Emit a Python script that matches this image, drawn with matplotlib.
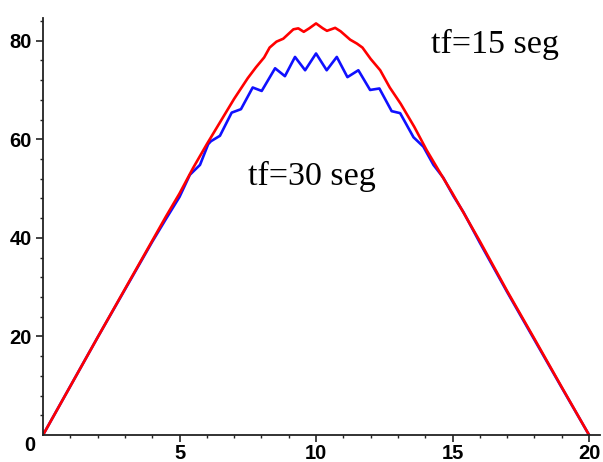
import numpy as np
import matplotlib.pyplot as plt

# curve for tf=15 seg (red)
x_tf15 = [0, 1, 2, 3, 4, 4.5, 5, 5.5, 6, 6.5, 7, 7.5, 7.8, 8.1, 8.3, 8.55, 8.8,
          9.17, 9.35, 9.55, 9.75, 10, 10.25, 10.4, 10.7, 10.9, 11.25, 11.5, 11.7,
          12, 12.35, 12.7, 13.1, 13.6, 14.05, 14.5, 15, 16, 17, 18, 19, 20]
y_tf15 = [0, 9.9, 19.8, 29.6, 39.4, 44.3, 49, 54.2, 59, 63.6, 68.2, 72.4, 74.6, 76.6,
          78.6, 79.8, 80.4, 82.3, 82.5, 81.8, 82.5, 83.5, 82.5, 82.0, 82.6, 81.9,
          80.2, 79.4, 78.6, 76.3, 74.0, 70.5, 67.2, 62.5, 57.8, 53.6, 49, 39.3,
          29.2, 19.5, 9.7, 0]

# curve for tf=30 seg (blue)
x_tf30 = [0, 1, 2, 3, 4, 4.5, 5, 5.38, 5.75, 6.05, 6.15, 6.48, 6.91, 7.25, 7.68,
          8.01, 8.5, 8.86, 9.23, 9.6, 10, 10.39, 10.76, 11.15, 11.55, 11.98, 12.32,
          12.77, 13.08, 13.57, 13.93, 14.3, 14.66, 15.03, 15.4, 16, 17, 18, 19, 20]
y_tf30 = [0, 9.9, 19.8, 29.5, 39.2, 43.8, 48.3, 52.8, 54.8, 59.0, 59.6, 60.7, 65.4,
          66.1, 70.5, 69.8, 74.4, 72.8, 76.7, 74.0, 77.4, 74.0, 76.7, 72.6, 74.0,
          70.0, 70.3, 65.7, 65.3, 60.4, 58.5, 54.8, 52.2, 48.5, 45.2, 39.0, 29.0,
          19.3, 9.6, 0]

x_ticks = [5, 10, 15, 20]
y_ticks = [20, 40, 60, 80]

fig = plt.figure(figsize=(6.03, 4.62), dpi=100)
ax = fig.add_axes([43 / 603, 27 / 462, 557 / 603, 417 / 462])

ax.plot(x_tf30, y_tf30, color='#1010ff', lw=1.9, solid_joinstyle='round')
ax.plot(x_tf15, y_tf15, color='#ff0000', lw=1.9, solid_joinstyle='round')

ax.set_xlim(0, 20.4)
ax.set_ylim(0, 84.6)

for s in ['top', 'right']:
    ax.spines[s].set_visible(False)
for s in ['left', 'bottom']:
    ax.spines[s].set_color('#222222')
    ax.spines[s].set_linewidth(1.3)

ax.set_xticks(x_ticks)
ax.set_xticks(np.arange(1, 21, 1), minor=True)
ax.set_yticks(y_ticks)
ax.set_yticks(np.arange(4, 85, 4), minor=True)

lab = dict(fontfamily='Liberation Sans', fontweight='bold', fontsize=14.5)
ax.set_xticklabels([str(v) for v in x_ticks], **lab)
ax.set_yticklabels([str(v) for v in y_ticks], **lab)
ax.tick_params(axis='x', which='major', length=5, width=1.2, color='#222222', pad=1.5)
ax.tick_params(axis='y', which='major', length=5, width=1.2, color='#222222', pad=3)
ax.tick_params(which='minor', length=2.5, width=1.0, color='#222222')

ax.text(-0.28, -0.2, '0', ha='right', va='top', clip_on=False, **lab)

txt = dict(fontfamily='Liberation Serif', fontsize=24.5, color='black')
ax.text(14.2, 77.4, 'tf=15 seg', ha='left', va='baseline', **txt)
ax.text(7.5, 50.8, 'tf=30 seg', ha='left', va='baseline', **txt)

fig.savefig('out.png', dpi=100)
